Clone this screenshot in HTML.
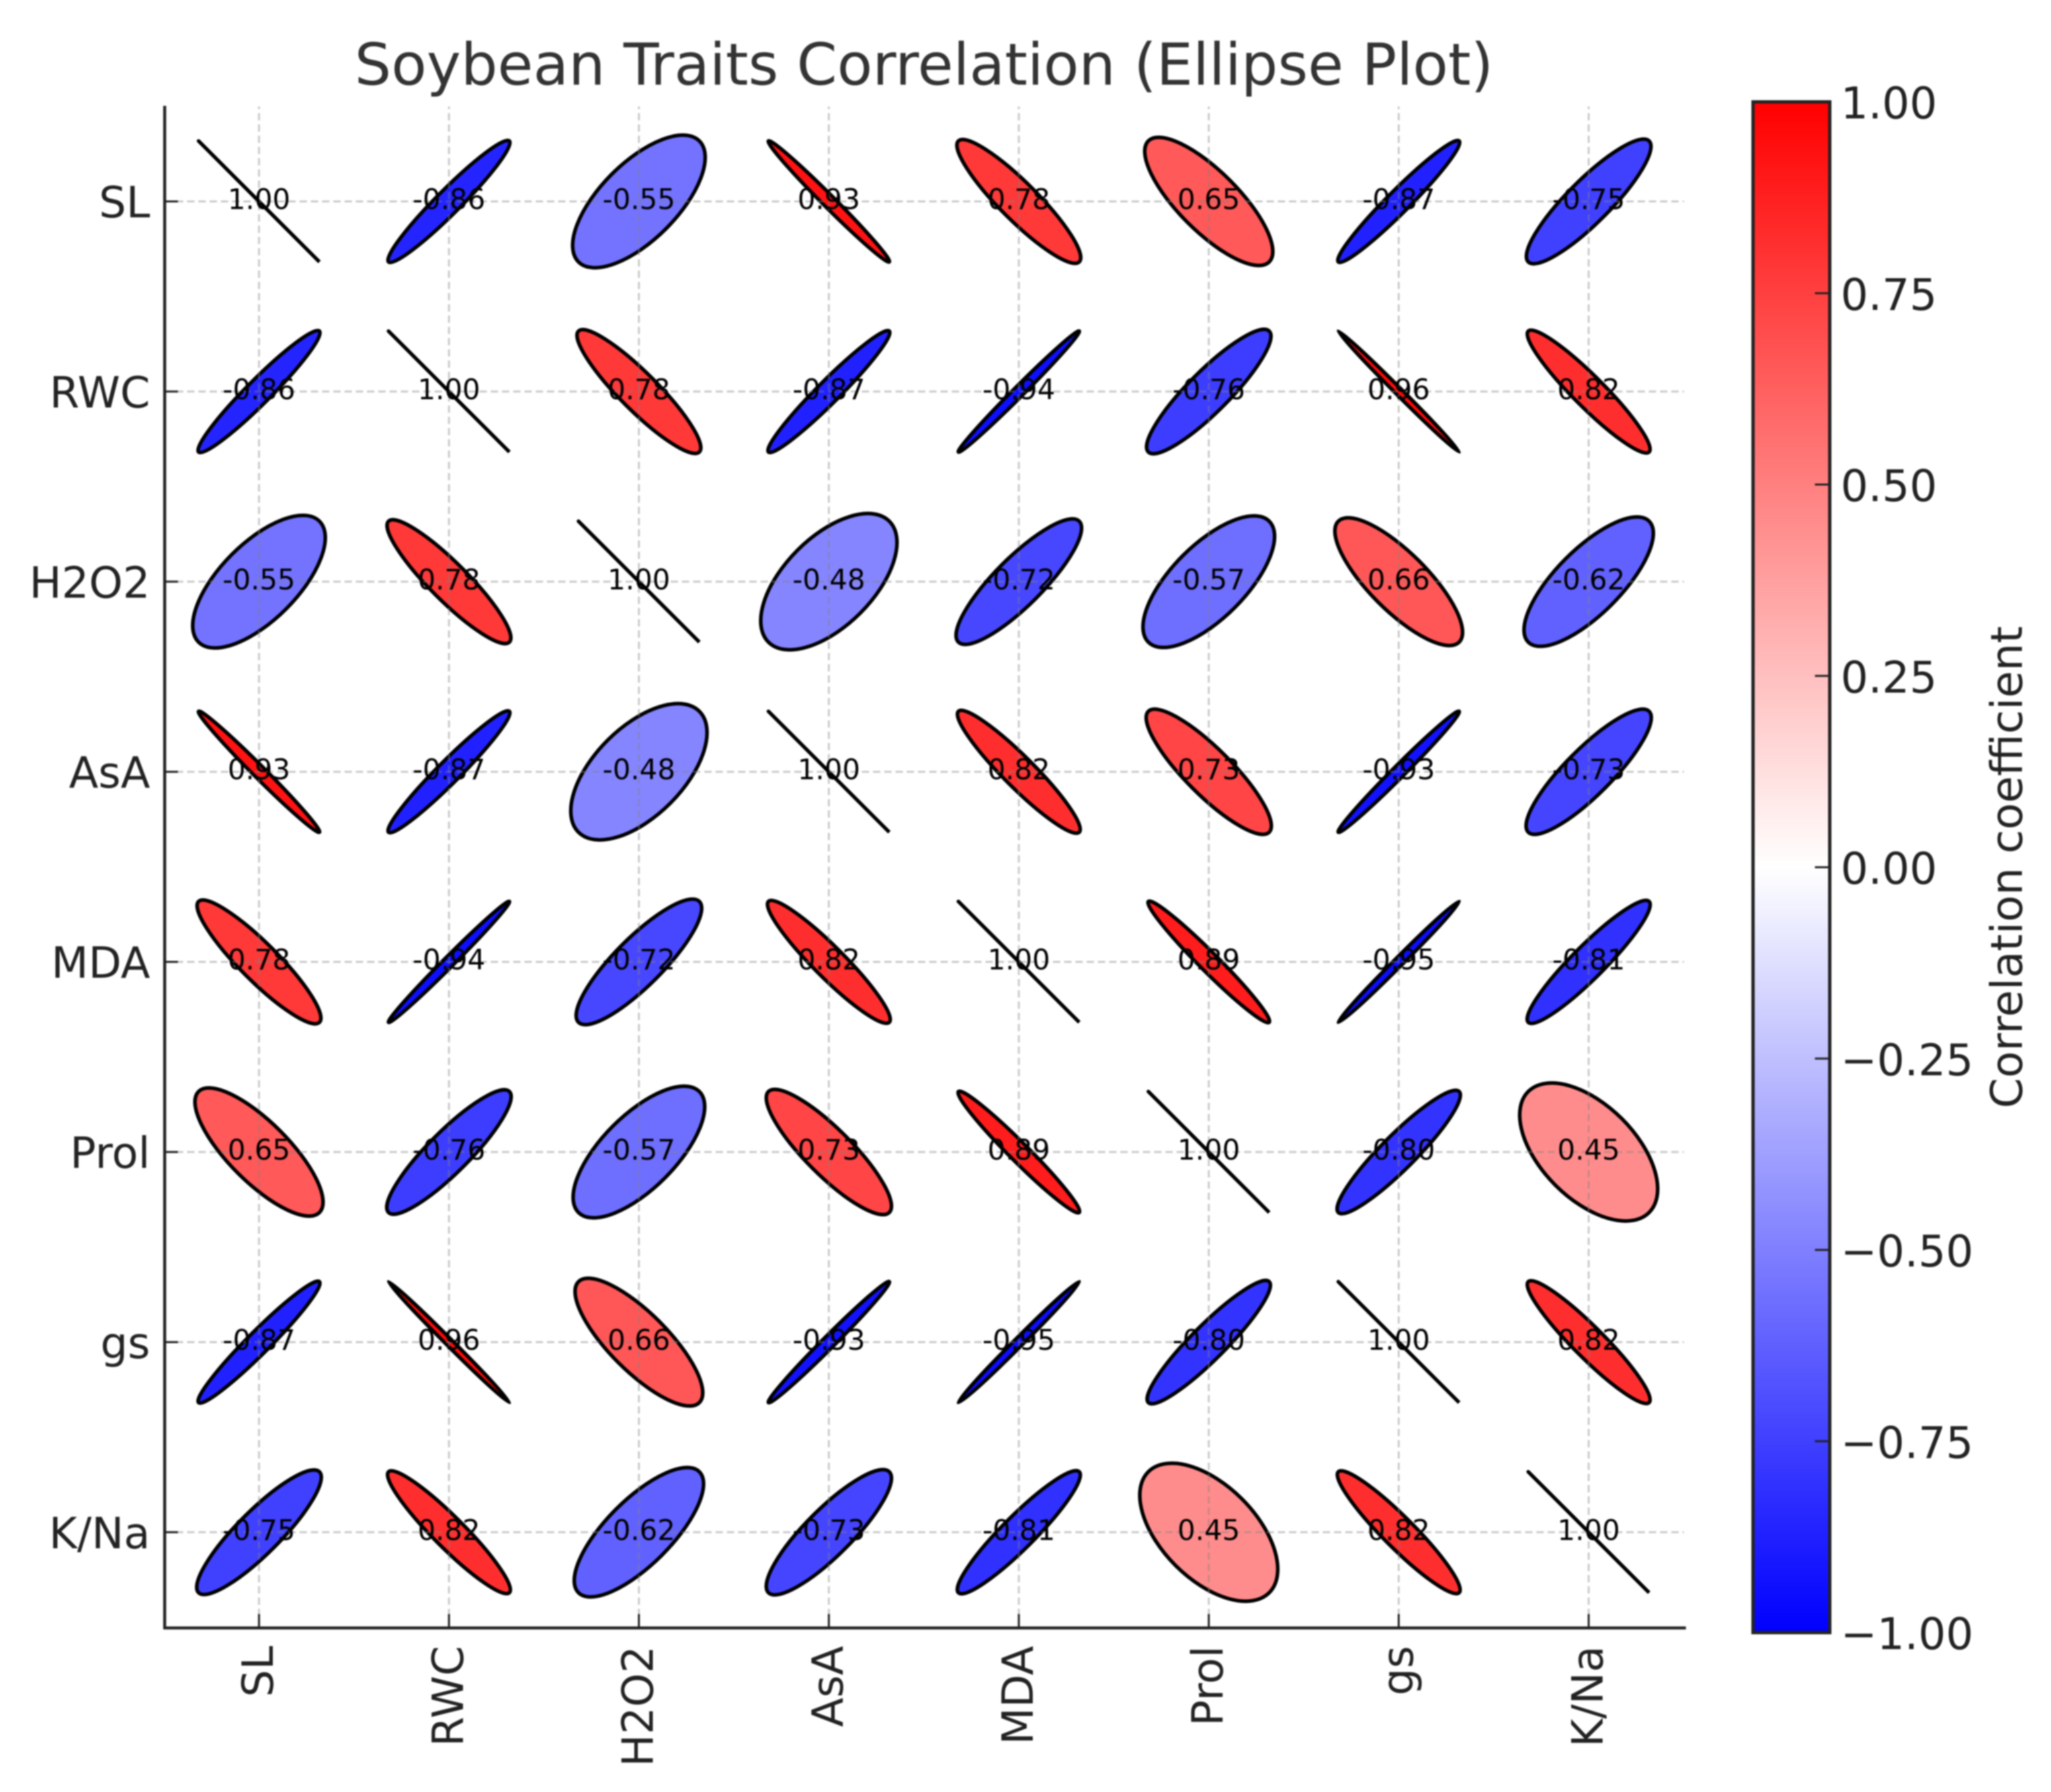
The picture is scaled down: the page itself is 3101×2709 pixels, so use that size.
<!DOCTYPE html>
<html lang="en">
<head>
<meta charset="utf-8">
<title>Soybean Traits Correlation (Ellipse Plot)</title>
<style>
  html, body { margin: 0; padding: 0; background: #fff; }
  body { width: 3101px; height: 2709px; overflow: hidden; }
  svg { display: block; filter: blur(1px); }
  text { font-family: "DejaVu Sans", "Liberation Sans", sans-serif; }
</style>
</head>
<body>
<svg id="chart" xmlns="http://www.w3.org/2000/svg" width="3101" height="2709" viewBox="0 0 3101 2709">
  <defs>
    <linearGradient id="bwr" x1="0" y1="1" x2="0" y2="0">
      <stop offset="0" stop-color="#0000ff"/>
      <stop offset="0.5" stop-color="#ffffff"/>
      <stop offset="1" stop-color="#ff0000"/>
    </linearGradient>
  </defs>
  <rect x="0" y="0" width="3101" height="2709" fill="#ffffff"/>
  <text x="1397" y="128" font-size="87.4" fill="#333333" text-anchor="middle">Soybean Traits Correlation (Ellipse Plot)</text>
  <g id="ellipses"></g>
  <g id="grid"></g>
  <g id="annotations"></g>
  <g id="ticks"></g>
  <line x1="249" y1="160" x2="249" y2="2463" stroke="#222222" stroke-width="4.5"/>
  <line x1="247" y1="2461" x2="2549" y2="2461" stroke="#222222" stroke-width="4.5"/>
  <g id="x-labels"></g>
  <g id="y-labels"></g>
  <rect x="2650.5" y="154" width="116" height="2314" fill="url(#bwr)" stroke="#222222" stroke-width="5"/>
  <g id="cb-ticks"></g>
  <text transform="translate(3057,1311) rotate(-90)" font-size="66" fill="#222222" text-anchor="middle">Correlation coefficient</text>
</svg>
<script>
const categories = ["SL", "RWC", "H2O2", "AsA", "MDA", "Prol", "gs", "K/Na"];
const rowSL   = [1.00, -0.86, -0.55, 0.93, 0.78, 0.65, -0.87, -0.75];
const rowRWC  = [-0.86, 1.00, 0.78, -0.87, -0.94, -0.76, 0.96, 0.82];
const rowH2O2 = [-0.55, 0.78, 1.00, -0.48, -0.72, -0.57, 0.66, -0.62];
const rowAsA  = [0.93, -0.87, -0.48, 1.00, 0.82, 0.73, -0.93, -0.73];
const rowMDA  = [0.78, -0.94, -0.72, 0.82, 1.00, 0.89, -0.95, -0.81];
const rowProl = [0.65, -0.76, -0.57, 0.73, 0.89, 1.00, -0.80, 0.45];
const rowGs   = [-0.87, 0.96, 0.66, -0.93, -0.95, -0.80, 1.00, 0.82];
const rowKNa  = [-0.75, 0.82, -0.62, -0.73, -0.81, 0.45, 0.82, 1.00];
const correlationRows = [rowSL, rowRWC, rowH2O2, rowAsA, rowMDA, rowProl, rowGs, rowKNa];
const colorbarTicks = [-1.00, -0.75, -0.50, -0.25, 0.00, 0.25, 0.50, 0.75, 1.00];

const NS = "http://www.w3.org/2000/svg";
const unit = 287.2;
const xPos = i => 391.6 + i * unit;
const yPos = i => 304.5 + i * 287.4;
const cbY = v => 1311 - v * 1157;
const bwr = v => {
  const t = Math.max(-1, Math.min(1, v));
  const c = Math.round(255 * (1 - Math.abs(t)));
  return t >= 0 ? `rgb(255,${c},${c})` : `rgb(${c},${c},255)`;
};
const make = (parent, tag) => {
  const el = document.createElementNS(NS, tag);
  parent.appendChild(el);
  return el;
};
const gEllipses = document.getElementById("ellipses");
const gGrid = document.getElementById("grid");
const gAnn = document.getElementById("annotations");
const gTicks = document.getElementById("ticks");
const gX = document.getElementById("x-labels");
const gY = document.getElementById("y-labels");
const gCb = document.getElementById("cb-ticks");

correlationRows.forEach((row, r) => {
  row.forEach((value, c) => {
    const cx = xPos(c), cy = yPos(r);
    const ell = make(gEllipses, "ellipse");
    
    
    ell.setAttribute("cx", cx);
    ell.setAttribute("cy", cy);
    ell.setAttribute("rx", 0.45 * unit);
    ell.setAttribute("ry", Math.max(0.02, 0.45 * unit * (1 - Math.abs(value))));
    ell.setAttribute("transform", `rotate(${value >= 0 ? 45 : -45} ${cx} ${cy})`);
    ell.setAttribute("fill", bwr(value));
    ell.setAttribute("stroke", "#000000");
    ell.setAttribute("stroke-width", "5.5");

    const txt = make(gAnn, "text");
    
    
    txt.setAttribute("x", cx);
    txt.setAttribute("y", cy + 11.5);
    txt.setAttribute("font-size", "42.5");
    txt.setAttribute("fill", "#000000");
    txt.setAttribute("text-anchor", "middle");
    txt.textContent = value.toFixed(2);
  });
});

categories.forEach((name, i) => {
  const gx = make(gGrid, "line");
  
  
  gx.setAttribute("x1", xPos(i));
  gx.setAttribute("x2", xPos(i));
  gx.setAttribute("y1", 2460);
  gx.setAttribute("y2", 161);
  gx.setAttribute("stroke", "#808080");
  gx.setAttribute("stroke-opacity", "0.42");
  gx.setAttribute("stroke-width", "3");
  gx.setAttribute("stroke-dasharray", "11 6");

  const gy = make(gGrid, "line");
  
  
  gy.setAttribute("x1", 249);
  gy.setAttribute("x2", 2546);
  gy.setAttribute("y1", yPos(i));
  gy.setAttribute("y2", yPos(i));
  gy.setAttribute("stroke", "#808080");
  gy.setAttribute("stroke-opacity", "0.42");
  gy.setAttribute("stroke-width", "3");
  gy.setAttribute("stroke-dasharray", "11 6");

  const tx = make(gTicks, "line");
  
  
  tx.setAttribute("x1", xPos(i));
  tx.setAttribute("x2", xPos(i));
  tx.setAttribute("y1", 2461);
  tx.setAttribute("y2", 2440);
  tx.setAttribute("stroke", "#222222");
  tx.setAttribute("stroke-width", "3");

  const ty = make(gTicks, "line");
  
  
  ty.setAttribute("x1", 249);
  ty.setAttribute("x2", 269);
  ty.setAttribute("y1", yPos(i));
  ty.setAttribute("y2", yPos(i));
  ty.setAttribute("stroke", "#222222");
  ty.setAttribute("stroke-width", "3");

  const lx = make(gX, "text");
  
  
  lx.setAttribute("transform", `translate(${xPos(i) + 21},2488) rotate(-90)`);
  lx.setAttribute("font-size", "65");
  lx.setAttribute("fill", "#222222");
  lx.setAttribute("text-anchor", "end");
  lx.textContent = name;

  const ly = make(gY, "text");
  
  
  ly.setAttribute("x", 227);
  ly.setAttribute("y", yPos(i) + 24);
  ly.setAttribute("font-size", "65");
  ly.setAttribute("fill", "#222222");
  ly.setAttribute("text-anchor", "end");
  ly.textContent = name;
});

colorbarTicks.forEach(v => {
  const label = v.toFixed(2).replace("-", "\u2212");
  if (Math.abs(v) < 1) {
    const t = make(gCb, "line");
    
    
    t.setAttribute("x1", 2744);
    t.setAttribute("x2", 2766);
    t.setAttribute("y1", cbY(v));
    t.setAttribute("y2", cbY(v));
    t.setAttribute("stroke", "#222222");
    t.setAttribute("stroke-width", "3");
  }
  const txt = make(gCb, "text");
  
  
  txt.setAttribute("x", 2783);
  txt.setAttribute("y", cbY(v) + 25);
  txt.setAttribute("font-size", "65.5");
  txt.setAttribute("fill", "#222222");
  txt.textContent = label;
});
</script>
</body>
</html>
